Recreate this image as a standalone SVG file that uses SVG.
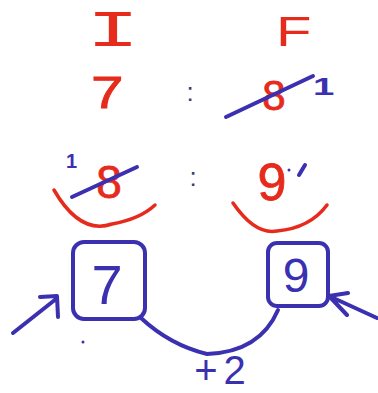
<svg xmlns="http://www.w3.org/2000/svg" width="378" height="393" viewBox="0 0 378 393">
<style>
.r{fill:#e62a1c;font-family:"Liberation Sans",Arial,sans-serif;stroke:#e62a1c;stroke-width:0.8}
.h{fill:#e62a1c;stroke:none}
.b{fill:#3a30b0;font-family:"Liberation Sans",Arial,sans-serif}
.k{fill:#3a3d6a;font-family:"Liberation Sans",Arial,sans-serif}
.rl{fill:none;stroke:#e62a1c;stroke-width:3.5;stroke-linecap:round}
.bl{fill:none;stroke:#3a30b0;stroke-width:4;stroke-linecap:round;stroke-linejoin:round}
</style>
<rect width="378" height="393" fill="#ffffff"/>
<g id="header">
<text class="h" x="0" y="0" font-size="52" transform="translate(113,46) scale(1.7,1)" text-anchor="middle" style="font-family:'Liberation Mono',monospace">I</text>
<text class="h" x="0" y="0" font-size="43" transform="translate(276,46) scale(1.35,1)" style="font-family:'Liberation Sans',Arial,sans-serif">F</text>
</g>
<g id="row1">
<text class="r" x="0" y="0" font-size="45" transform="translate(91,108) scale(1.3,1)">7</text>
<text class="k" x="190" y="101" font-size="26" text-anchor="middle">:</text>
<text class="r" x="274" y="110" font-size="42" text-anchor="middle">8</text>
<path class="bl" d="M226 117 L313 76"/>
<text class="b" x="0" y="0" font-size="24" font-weight="bold" transform="translate(313,95) scale(1.6,1)">1</text>
</g>
<g id="row2">
<text class="b" x="66" y="168" font-size="20" font-weight="bold">1</text>
<text class="r" x="109" y="198" font-size="46" text-anchor="middle">8</text>
<path class="bl" d="M72 197 L137 167"/>
<text class="k" x="193" y="186" font-size="26" text-anchor="middle">:</text>
<text class="r" x="272" y="200" font-size="52" text-anchor="middle">9</text>
<circle cx="289" cy="170" r="1.5" fill="#3a30b0"/>
<path class="bl" d="M305 165 L299 175" stroke-width="3.5"/>
<path class="rl" d="M54 190 Q80 235 112 224 Q140 219 155 205"/>
<path class="rl" d="M233 203 Q255 235 277 231 Q310 228 327 205"/>
</g>
<g id="box7">
<rect class="bl" x="73" y="242" width="72" height="77" rx="11"/>
<text class="b" x="107" y="304" font-size="56" text-anchor="middle">7</text>
</g>
<g id="box9">
<rect class="bl" x="268" y="243" width="60" height="63" rx="9"/>
<text class="b" x="296" y="292" font-size="48" text-anchor="middle">9</text>
</g>
<g id="connectors">
<path class="bl" d="M141 318 Q170 345 207 354 Q260 352 278 310"/>
<path class="bl" d="M13 333 L56 299 M40 297 L57 296 L58 317"/>
<path class="bl" d="M377 318 L329 296 M348 293 L329 296 L347 315"/>
<circle cx="83" cy="342" r="1.5" fill="#3a30b0"/>
</g>
<g id="label">
<text class="b" x="223" y="384" font-size="40" text-anchor="middle" letter-spacing="6">+2</text>
</g>
</svg>
